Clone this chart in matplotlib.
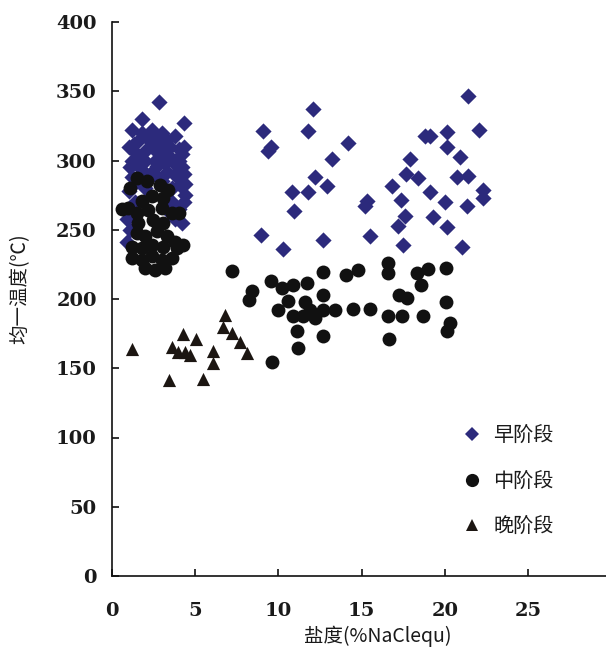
import matplotlib
matplotlib.use("Agg")
import matplotlib.pyplot as plt
from matplotlib.lines import Line2D

# ---------------- data ----------------
early_x = [1.2, 1.8, 2.8, 4.3, 1.8, 1.3, 2.2, 1.5, 2.0, 2.5, 3.0, 3.5, 4.0, 4.3, 3.2, 2.7, 1.8, 2.3,
           3.8, 4.4, 4.4, 3.9, 1.4, 0.9, 3.0, 3.6, 2.0, 4.0, 3.8, 1.2, 3.3, 2.6, 4.2, 3.6, 1.5,
           1.0, 1.6, 2.4, 3.0, 3.8, 4.2, 1.1, 1.7, 2.6, 3.4, 4.0, 4.3, 1.2, 2.5, 3.3, 4.1, 4.3,
           1.0, 3.5, 4.2, 1.1, 0.9, 2.1, 2.9, 3.7, 1.4,
           9.05, 11.75, 12.09, 9.53, 9.39, 14.16, 13.23, 12.19, 12.89, 10.83, 11.75, 15.2, 15.3,
           16.8, 10.93, 8.95, 10.29, 12.69, 15.5,
           21.4, 22.06, 18.8, 19.1, 20.1, 20.1, 20.9, 17.9, 17.66, 18.4, 20.7, 21.4, 19.1, 22.3,
           22.3, 17.34, 20.0, 21.3, 17.6, 17.2, 19.26, 20.1, 17.46, 21.04]
early_y = [322, 330, 342, 327, 320, 312, 315, 305, 300, 308, 305, 310, 300, 310, 298, 296, 293, 290,
           290, 283, 275, 288, 270, 241, 285, 280, 280, 265, 258, 300, 315, 318, 295, 270, 285,
           310, 315, 322, 320, 318, 305, 295, 298, 300, 303, 308, 290, 288, 290, 292, 282, 270,
           278, 262, 255, 250, 258, 308, 312, 298, 300,
           321, 321, 337, 310, 306.6, 312.6, 301.3, 287.8, 281.3, 277.2, 277.2, 267, 271,
           281.8, 263.7, 246.4, 236.3, 242.3, 245.2,
           346.3, 322.3, 317.4, 318, 320.3, 309.5, 302.3, 301.1, 290.2, 287.4, 287.9, 288.6, 277.2, 279,
           273, 271.7, 269.8, 267.3, 259.6, 252.4, 259.2, 251.7, 239.2, 237.9]

mid_x = [1.48, 1.08, 2.08, 2.88, 3.38, 3.08, 2.38, 1.78, 0.98, 1.48, 2.18, 2.98, 3.58, 1.58, 2.48,
         3.08, 1.48, 1.98, 2.68, 3.28, 3.78, 1.18, 1.78, 2.38, 3.08, 3.88, 4.28, 1.18, 1.78, 2.38,
         2.98, 3.58, 1.98, 2.58, 3.18, 0.6, 4.0,
         7.19, 9.55, 8.4, 8.2, 10.19, 10.89, 11.73, 12.69, 14.04, 14.79, 9.99, 10.59, 10.89, 11.6,
         11.9, 11.5, 12.2, 12.69, 12.69, 13.39, 14.46, 15.5, 11.09, 12.69, 11.15, 9.59,
         16.6, 16.6, 17.26, 17.74, 16.6, 17.4, 16.65, 18.3, 18.96, 20.06, 18.54, 20.06, 18.7,
         20.3, 20.1]
mid_y = [287.3, 280.1, 284.9, 282.5, 278.9, 272.9, 274.1, 270.5, 265.7, 262.1, 264.5, 265.7, 262.1,
         254.8, 257.2, 254.8, 247.6, 245.2, 248.8, 245.2, 241.5, 237.9, 236.8, 239.2, 237.9, 236.8,
         239.2, 229.5, 228.3, 230.7, 228.3, 229.5, 222.3, 221.1, 222.3, 265, 262,
         219.9, 212.7, 206, 199, 207.9, 210.3, 211.5, 219.2, 217.5, 221.1, 192, 198.2, 187.4, 198,
         192, 188, 186, 203, 192, 192, 192.7, 192.7, 176.6, 173, 164.5, 154.8,
         226, 219, 203, 200.6, 187.4, 187.4, 171, 219, 221.6, 222.3, 210.3, 197.5, 187.4,
         182.6, 176.6]

late_x = [1.22, 4.25, 5.05, 3.58, 3.98, 4.38, 4.68, 6.08, 6.08, 3.44, 5.45, 6.79, 6.69, 7.19, 7.69, 8.09]
late_y = [163.8, 174.9, 171.2, 165.2, 162, 162, 159.7, 162.8, 153.7, 141.6, 142.1, 188.6, 180, 175.4,
          169.3, 160.9]

x_ticks = [0, 5, 10, 15, 20, 25]
y_ticks = [0, 50, 100, 150, 200, 250, 300, 350, 400]
labels = ["早阶段", "中阶段", "晚阶段"]
x_title = "盐度(%NaClequ)"
y_title = "均一温度(℃)"

# ---------------- figure ----------------
W, H = 606, 649
fig = plt.figure(figsize=(W / 100, H / 100), dpi=100)
ax = fig.add_axes([112 / W, 1 - 576 / H, (W - 112) / W, (576 - 22) / H])

c_early = "#2c2a7c"
c_mid = "#111111"
c_late = "#1c1612"

ax.scatter(early_x, early_y, marker="D", s=68, color=c_early, linewidths=0, zorder=2)
ax.scatter(mid_x, mid_y, marker="o", s=100, color=c_mid, linewidths=0, zorder=3)
ax.scatter(late_x, late_y, marker="^", s=90, color=c_late, linewidths=0, zorder=3)

ax.set_xlim(0, 29.67)
ax.set_ylim(0, 400)
ax.set_xticks(x_ticks)
ax.set_yticks(y_ticks)
for s in ["top", "right"]:
    ax.spines[s].set_visible(False)
for s in ["left", "bottom"]:
    ax.spines[s].set_linewidth(1.2)
    ax.spines[s].set_color("#111111")

ax.tick_params(axis="both", direction="in", length=5, width=1.2, color="#111111")
ax.tick_params(axis="x", pad=19)
ax.tick_params(axis="y", pad=11)
for lab in ax.get_xticklabels() + ax.get_yticklabels():
    lab.set_fontfamily("DejaVu Serif")
    lab.set_fontweight("bold")
    lab.set_fontsize(14)
    lab.set_color("#1a1a1a")

cjk = ["Noto Sans CJK SC", "DejaVu Sans"]
fig.text(378 / W, 1 - 636 / H, x_title, family=cjk, fontsize=14, ha="center", va="center",
         color="#1a1a1a")
fig.text(20 / W, 1 - 289 / H, y_title, family=cjk, fontsize=14, ha="center", va="center",
         rotation=90, color="#1a1a1a")

handles = [
    Line2D([], [], marker="D", linestyle="none", markersize=7.0, color=c_early, markeredgewidth=0),
    Line2D([], [], marker="o", linestyle="none", markersize=9.5, color=c_mid, markeredgewidth=0),
    Line2D([], [], marker="^", linestyle="none", markersize=9.0, color=c_late, markeredgewidth=0),
]
leg = fig.legend(handles, labels, loc="upper left", bbox_to_anchor=(462 / W, 1 - 425 / H),
                 frameon=False, prop={"family": cjk, "size": 14.5}, handlelength=1.0,
                 handletextpad=0.55, labelspacing=1.22, borderpad=0, borderaxespad=0)
for t in leg.get_texts():
    t.set_color("#1a1a1a")

fig.savefig("out.png", dpi=100)
